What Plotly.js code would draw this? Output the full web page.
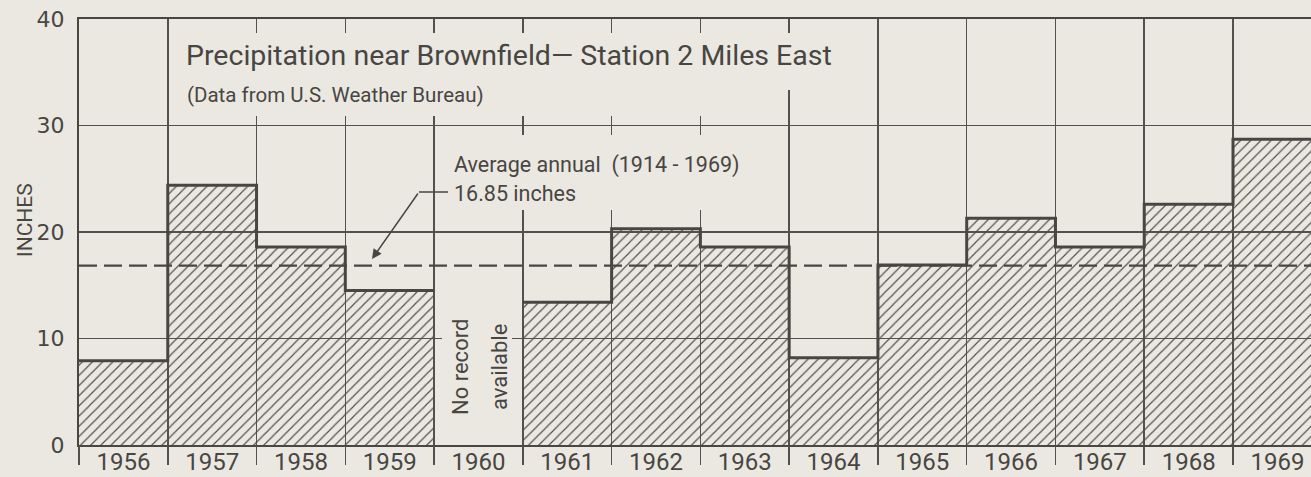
<!DOCTYPE html>
<html>
<head>
<meta charset="utf-8">
<script src="https://cdn.plot.ly/plotly-3.0.1.min.js"></script>
<style>
  html, body { margin: 0; padding: 0; background: #ebe8e1; }
  #chart { width: 1311px; height: 477px; }
</style>
</head>
<body>
<div id="chart"></div>
<script>
// Annual precipitation, Brownfield station 2 miles east
const years = ['1956', '1957', '1958', '1959', '1960', '1961', '1962',
               '1963', '1964', '1965', '1966', '1967', '1968', '1969'];
const precipInches = [7.9, 24.4, 18.6, 14.5, null, 13.4, 20.3,
                      18.6, 8.2, 16.9, 21.3, 18.6, 22.6, 28.7];
const averageAnnual = 16.85;
const averagePeriod = '1914 - 1969';
const yTickVals = [0, 10, 20, 30, 40];

// Page geometry
const W = 1311, H = 477;
const M = { l: 79, r: 0, t: 19, b: 32 };
const plotW = W - M.l - M.r;
const plotH = H - M.t - M.b;
const barPx = 88.77;                       // width of one year column
const xMax = -0.5 + plotW / barPx;          // last column runs off the sheet

const ink = '#474643';
const gridInk = '#52514d';
const paper = '#ebe8e1';
const letterFont = 'Roboto, "Liberation Sans", sans-serif';

// pixel -> paper coordinates
const px = p => (p - M.l) / plotW;
const py = p => (H - M.b - p) / plotH;

// Heavy outline along the tops of the columns (stepped)
const stepX = [], stepY = [];
precipInches.forEach((v, i) => {
  stepX.push(i - 0.5, i + 0.5);
  stepY.push(v, v);
});

const bars = {
  type: 'bar',
  x: years,
  y: precipInches,
  width: 1,
  xaxis: 'x',
  yaxis: 'y',
  marker: {
    color: 'rgba(0,0,0,0)',
    line: { width: 0 },
    pattern: { shape: '/', fgcolor: '#4f4e4a', size: 7.2, solidity: 0.16, fillmode: 'replace' }
  },
  hoverinfo: 'skip',
  showlegend: false
};

const tops = {
  type: 'scatter',
  mode: 'lines',
  x: stepX,
  y: stepY,
  xaxis: 'x2',
  yaxis: 'y',
  connectgaps: false,
  line: { color: ink, width: 3 },
  hoverinfo: 'skip',
  showlegend: false
};

// Masks keep the grid from running through the lettering
const mask = (x0, y0, x1, y1) => ({
  type: 'rect', xref: 'paper', yref: 'paper',
  x0: px(x0), x1: px(x1), y0: py(y1), y1: py(y0),
  fillcolor: paper, line: { width: 0 }, layer: 'above'
});

const shapes = [
  mask(170, 33, 845, 90),
  mask(170, 90, 760, 116),
  mask(445, 135, 745, 210),
  mask(442, 330, 512, 346),
  {
    type: 'line', xref: 'paper', yref: 'y',
    x0: 0, x1: 1, y0: averageAnnual, y1: averageAnnual,
    line: { color: ink, width: 2.2, dash: '18px,7px' }, layer: 'above'
  },
  {
    type: 'line', xref: 'paper', yref: 'paper',
    x0: px(419), x1: px(448), y0: py(192), y1: py(192),
    line: { color: ink, width: 1.5 }, layer: 'above'
  }
];

const note = (text, x, y, size, extra) => Object.assign({
  text: text, xref: 'paper', yref: 'paper', x: px(x), y: py(y),
  xanchor: 'left', yanchor: 'middle', showarrow: false,
  font: { family: letterFont, size: size, color: ink }
}, extra || {});

const annotations = [
  note('Precipitation near Brownfield\u2014 Station 2 Miles East', 184, 55, 28.5),
  note('(Data from U.S. Weather Bureau)', 185, 95, 20.5),
  note('Average annual&nbsp; (' + averagePeriod + ')', 452, 165, 21.5),
  note(averageAnnual.toFixed(2) + ' inches', 452, 193, 21.5),
  note('No record', 460, 367, 22, { xanchor: 'center', textangle: -90 }),
  note('available', 499, 367, 22, { xanchor: 'center', textangle: -90 }),
  note('INCHES', 25, 220, 21, { xanchor: 'center', textangle: -90 }),
  {
    text: '', xref: 'paper', yref: 'paper', x: px(372), y: py(259),
    ax: 419 - 372, ay: 192 - 259, showarrow: true,
    arrowhead: 2, arrowsize: 1.3, arrowwidth: 1.5, arrowcolor: ink, standoff: 0
  }
];

const boundaries = years.map((_, i) => i - 0.5).concat([years.length - 0.5]);

const layout = {
  width: W, height: H,
  margin: M,
  paper_bgcolor: paper,
  plot_bgcolor: paper,
  bargap: 0,
  showlegend: false,
  xaxis: {
    type: 'category',
    range: [-0.5, xMax],
    showgrid: false, zeroline: false,
    showline: true, mirror: true, linecolor: ink, linewidth: 2,
    ticks: '', ticklabelstandoff: -6,
    tickfont: { family: letterFont, size: 24, color: ink },
    fixedrange: true
  },
  xaxis2: {
    type: 'linear', overlaying: 'x', anchor: 'y', side: 'bottom',
    range: [-0.5, xMax],
    tickmode: 'array', tickvals: boundaries,
    showticklabels: false,
    showgrid: true, gridcolor: gridInk, gridwidth: 1.5,
    ticks: 'outside', ticklen: 19, tickwidth: 1.5, tickcolor: gridInk,
    zeroline: false, showline: false,
    fixedrange: true
  },
  yaxis: {
    range: [0, 40],
    tickmode: 'array', tickvals: yTickVals,
    showgrid: true, gridcolor: gridInk, gridwidth: 1.5,
    zeroline: false,
    showline: true, linecolor: ink, linewidth: 2,
    ticks: '', ticklabelstandoff: 8,
    tickfont: { family: '"DejaVu Sans", sans-serif', size: 22, color: ink },
    fixedrange: true
  },
  shapes: shapes,
  annotations: annotations
};

Plotly.newPlot('chart', [bars, tops], layout, { staticPlot: true, displayModeBar: false });
</script>
</body>
</html>
